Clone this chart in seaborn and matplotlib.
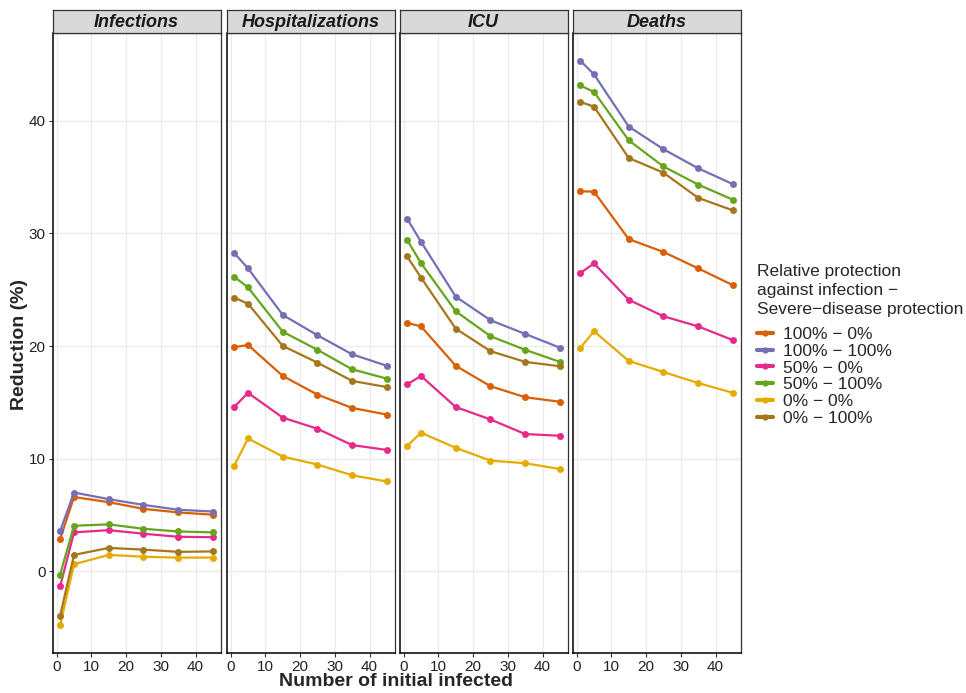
import matplotlib
matplotlib.use("Agg")
import matplotlib.pyplot as plt
import pandas as pd
import seaborn as sns
from matplotlib.lines import Line2D

# data
initial_infected = [1, 5, 15, 25, 35, 45]
outcomes = ["Infections", "Hospitalizations", "ICU", "Deaths"]
scenarios = ["100% − 0%", "100% − 100%", "50% − 0%", "50% − 100%", "0% − 0%", "0% − 100%"]
colors = ["#D95F02", "#7570B3", "#E7298A", "#66A61E", "#E6AB02", "#A6761D"]

infections = {
    "100% − 0%":   [2.87, 6.60, 6.14, 5.55, 5.23, 5.03],
    "100% − 100%": [3.58, 7.00, 6.41, 5.90, 5.47, 5.31],
    "50% − 0%":    [-1.34, 3.46, 3.66, 3.34, 3.07, 3.03],
    "50% − 100%":  [-0.28, 4.05, 4.17, 3.78, 3.54, 3.46],
    "0% − 0%":     [-4.76, 0.63, 1.46, 1.30, 1.22, 1.22],
    "0% − 100%":   [-3.93, 1.46, 2.08, 1.93, 1.73, 1.77],
}
hospitalizations = {
    "100% − 0%":   [19.90, 20.10, 17.35, 15.69, 14.51, 13.92],
    "100% − 100%": [28.28, 26.90, 22.77, 20.96, 19.27, 18.25],
    "50% − 0%":    [14.59, 15.85, 13.65, 12.66, 11.21, 10.78],
    "50% − 100%":  [26.16, 25.21, 21.28, 19.67, 17.94, 17.11],
    "0% − 0%":     [9.36, 11.80, 10.19, 9.48, 8.53, 7.98],
    "0% − 100%":   [24.31, 23.76, 20.02, 18.53, 16.91, 16.36],
}
icu = {
    "100% − 0%":   [22.06, 21.75, 18.25, 16.44, 15.46, 15.06],
    "100% − 100%": [31.31, 29.26, 24.39, 22.30, 21.08, 19.86],
    "50% − 0%":    [16.60, 17.35, 14.59, 13.49, 12.19, 12.04],
    "50% − 100%":  [29.42, 27.37, 23.09, 20.88, 19.67, 18.60],
    "0% − 0%":     [11.13, 12.31, 10.97, 9.83, 9.60, 9.09],
    "0% − 100%":   [27.96, 26.08, 21.55, 19.55, 18.60, 18.21],
}
deaths = {
    "100% − 0%":   [33.75, 33.71, 29.50, 28.36, 26.90, 25.41],
    "100% − 100%": [45.35, 44.13, 39.49, 37.48, 35.79, 34.38],
    "50% − 0%":    [26.47, 27.34, 24.11, 22.65, 21.75, 20.53],
    "50% − 100%":  [43.15, 42.56, 38.27, 35.95, 34.34, 33.00],
    "0% − 0%":     [19.82, 21.32, 18.68, 17.70, 16.72, 15.85],
    "0% − 100%":   [41.69, 41.26, 36.70, 35.40, 33.16, 32.05],
}

rows = []
for outcome, table in zip(outcomes, [infections, hospitalizations, icu, deaths]):
    for sc in scenarios:
        for x, y in zip(initial_infected, table[sc]):
            rows.append({"outcome": outcome, "scenario": sc, "initial": x, "reduction": y})
df = pd.DataFrame(rows)

sns.set_style("white")
plt.rcParams["font.family"] = ["Liberation Sans", "DejaVu Sans"]

fig = plt.figure(figsize=(9.66, 6.93), dpi=100)
W, H = 966, 693
panel_left = [52.5, 226.5, 399.5, 572.5]
panel_w = 168
top, bottom = 33, 653
strip_h = 23
palette = dict(zip(scenarios, colors))

for i, outcome in enumerate(outcomes):
    ax = fig.add_axes([panel_left[i] / W, 1 - bottom / H, panel_w / W, (bottom - top) / H])
    sub = df[df["outcome"] == outcome]
    sns.lineplot(data=sub, x="initial", y="reduction", hue="scenario", hue_order=scenarios,
                 palette=palette, marker="o", markersize=5, markeredgewidth=0,
                 linewidth=1.6, legend=False, ax=ax)
    ax.set_xlim(-1.2, 47.2)
    ax.set_ylim(-7.25, 47.8)
    ax.set_xticks([0, 10, 20, 30, 40])
    ax.set_yticks([0, 10, 20, 30, 40])
    ax.grid(True, color="#EBEBEB", linewidth=0.9)
    ax.set_axisbelow(True)
    ax.set_xlabel("")
    ax.set_ylabel("")
    for side in ["top", "right"]:
        ax.spines[side].set_color("#333333")
        ax.spines[side].set_linewidth(0.9)
    for side in ["left", "bottom"]:
        ax.spines[side].set_color("black")
        ax.spines[side].set_linewidth(1.1)
    ax.tick_params(axis="both", length=3, width=0.8, color="#333333", labelsize=11,
                   labelcolor="#222222", pad=2, bottom=True, left=True)
    if i > 0:
        ax.tick_params(axis="y", left=False, labelleft=False)

    sax = fig.add_axes([panel_left[i] / W, 1 - top / H, panel_w / W, strip_h / H])
    sax.set_facecolor("#D9D9D9")
    sax.set_xticks([])
    sax.set_yticks([])
    for s in sax.spines.values():
        s.set_color("#333333")
        s.set_linewidth(0.9)
    sax.text(0.5, 0.47, outcome, transform=sax.transAxes, ha="center", va="center",
             fontsize=13, fontweight="bold", fontstyle="italic", color="#1A1A1A")

fig.text(396 / W, 1 - 682 / H, "Number of initial infected", ha="center", va="center",
         fontsize=14, fontweight="bold")
fig.text(20 / W, 1 - 345 / H, "Reduction (%)", ha="center", va="center", rotation=90,
         fontsize=14, fontweight="bold")

handles = [Line2D([0], [0], color=c, lw=3, marker="o", markersize=3.5) for c in colors]
leg = fig.legend(handles, scenarios, loc="upper left", bbox_to_anchor=(757 / W, 1 - 264 / H),
                 frameon=False, fontsize=12.5,
                 title="Relative protection\nagainst infection −\nSevere−disease protection",
                 title_fontsize=12.5, handlelength=0.9, handletextpad=0.6, labelspacing=0.1,
                 borderaxespad=0, borderpad=0)
leg._legend_box.align = "left"
leg._legend_box.sep = 7
leg.get_title().set_linespacing(1.33)

fig.savefig("out.png", dpi=100)
